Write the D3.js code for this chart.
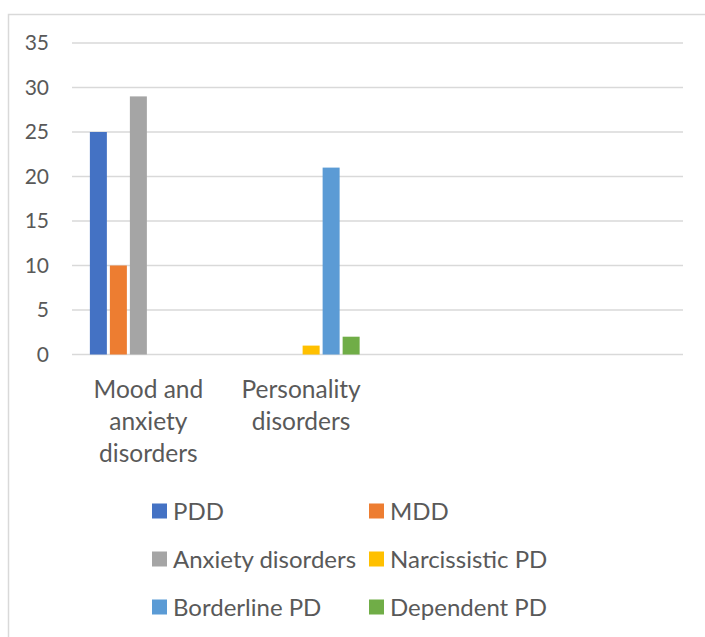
<!DOCTYPE html>
<html>
<head>
<meta charset="utf-8">
<script src="https://cdn.jsdelivr.net/npm/d3@7"></script>
<style>
  body { margin: 0; background: #fff; }
  text { font-family: Lato, "Open Sans", sans-serif; fill: #595959; }
</style>
</head>
<body>
<div id="chart"></div>
<script>
// Data
const categories = ["Mood and anxiety disorders", "Personality disorders", "", ""];
const seriesNames = ["PDD", "MDD", "Anxiety disorders", "Narcissistic PD", "Borderline PD", "Dependent PD"];
const PDD = [25, 0, null, null];
const MDD = [10, 0, null, null];
const anxietyDisorders = [29, 0, null, null];
const narcissisticPD = [0, 1, null, null];
const borderlinePD = [0, 21, null, null];
const dependentPD = [0, 2, null, null];
const yTicks = [0, 5, 10, 15, 20, 25, 30, 35];

const seriesValues = [PDD, MDD, anxietyDisorders, narcissisticPD, borderlinePD, dependentPD];
const colors = ["#4472C4", "#ED7D31", "#A5A5A5", "#FFC000", "#5B9BD5", "#70AD47"];

const width = 705, height = 637;
const plot = {left: 72, right: 683, top: 43, bottom: 354.5};

const svg = d3.select("#chart")
  .append("svg")
  .attr("width", width)
  .attr("height", height);

// chart frame (cropped on the right and bottom)
svg.append("rect")
  .attr("x", 8.5)
  .attr("y", 14.5)
  .attr("width", 760)
  .attr("height", 700)
  .attr("fill", "none")
  .attr("stroke", "#d9d9d9")
  .attr("stroke-width", 1.5);

const x0 = d3.scaleBand()
  .domain(categories.map((d, i) => i))
  .range([plot.left, plot.right])
  .paddingInner(0.234)
  .paddingOuter(0.117);

const x1 = d3.scaleBand()
  .domain(seriesNames)
  .range([0, x0.bandwidth()])
  .paddingInner(0.15);

const y = d3.scaleLinear()
  .domain([0, 35])
  .range([plot.bottom, plot.top]);

// gridlines
svg.append("g")
  .selectAll("line")
  .data(yTicks)
  .join("line")
    .attr("x1", plot.left)
    .attr("x2", plot.right)
    .attr("y1", d => y(d))
    .attr("y2", d => y(d))
    .attr("stroke", "#d9d9d9")
    .attr("stroke-width", 1.3);

// y axis labels
const yAxis = svg.append("g")
  .attr("transform", `translate(${plot.left - 23},0)`)
  .call(d3.axisLeft(y).tickValues(yTicks).tickSize(0).tickPadding(0));
yAxis.select(".domain").remove();
yAxis.selectAll("text")
  .style("font-size", "21px")
  .style("font-family", "Lato, sans-serif")
  .attr("fill", "#595959");

// bars
const groups = svg.append("g")
  .selectAll("g")
  .data(categories.map((c, i) => i))
  .join("g")
    .attr("transform", i => `translate(${x0(i)},0)`);

groups.selectAll("rect")
  .data(i => seriesNames.map((s, k) => ({series: s, value: seriesValues[k][i], color: colors[k]}))
              .filter(d => d.value !== null && d.value > 0))
  .join("rect")
    .attr("x", d => x1(d.series))
    .attr("width", x1.bandwidth())
    .attr("y", d => y(d.value))
    .attr("height", d => y(0) - y(d.value))
    .attr("fill", d => d.color);

// category labels, wrapped to the band
function wrap(textSel, maxWidth) {
  textSel.each(function() {
    const t = d3.select(this);
    const words = t.text().split(/\s+/).filter(w => w);
    t.text(null);
    let line = [];
    let tspan = t.append("tspan").attr("x", t.attr("x")).attr("dy", 0);
    words.forEach(w => {
      line.push(w);
      tspan.text(line.join(" "));
      if (tspan.node().getComputedTextLength() > maxWidth && line.length > 1) {
        line.pop();
        tspan.text(line.join(" "));
        line = [w];
        tspan = t.append("tspan").attr("x", t.attr("x")).attr("dy", 32).text(w);
      }
    });
  });
}

svg.append("g")
  .selectAll("text")
  .data(categories)
  .join("text")
    .attr("x", (d, i) => x0(i) + x0.bandwidth() / 2)
    .attr("y", 398)
    .attr("text-anchor", "middle")
    .style("font-size", "24.5px")
    .text(d => d)
    .call(wrap, 145);

// legend: two columns, three rows
const legendCols = [152, 369];
const legendRows = [511, 559, 607];
const legend = svg.append("g")
  .selectAll("g")
  .data(seriesNames)
  .join("g")
    .attr("transform", (d, i) => `translate(${legendCols[i % 2]},${legendRows[Math.floor(i / 2)]})`);

legend.append("rect")
  .attr("x", 0)
  .attr("y", -7.5)
  .attr("width", 15)
  .attr("height", 15)
  .attr("fill", (d, i) => colors[i]);

legend.append("text")
  .attr("x", 21)
  .attr("y", 8.5)
  .style("font-size", "24px")
  .text(d => d);
</script>
</body>
</html>
